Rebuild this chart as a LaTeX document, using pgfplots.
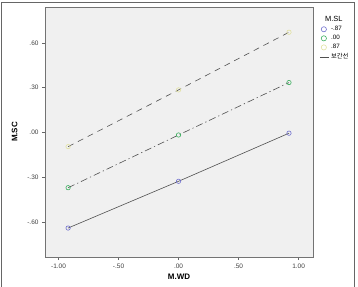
\documentclass[border=0pt]{standalone}
\usepackage{pgfplots}
\pgfplotsset{compat=1.18}
\usepackage{fontspec}
\setmainfont{Liberation Sans}
\newfontfamily\krfont{Noto Sans CJK KR}
\definecolor{bgc}{RGB}{240,240,240}
\definecolor{lnc}{RGB}{80,80,80}
\definecolor{mblue}{RGB}{110,110,205}
\definecolor{mgreen}{RGB}{60,175,95}
\definecolor{myell}{RGB}{225,225,160}
\pgfplotsset{
  legmark/.style={legend image code/.code={\draw[##1, line width=0.6bp] plot coordinates {(3bp,0bp)};}},
  legline/.style={legend image code/.code={\draw[##1] (-1bp,0bp) -- (8bp,0bp);}},
}
\begin{document}
\begin{tikzpicture}
\draw[gray!80!black, line width=0.9bp] (1bp,-2bp) rectangle (354bp,285bp);
\begin{axis}[
  at={(45bp,30bp)}, anchor=south west,
  scale only axis, width=268bp, height=250bp,
  xmin=-1.1125, xmax=1.12, ymin=-0.834, ymax=0.84,
  axis background/.style={fill=bgc},
  axis line style={gray!90!black, line width=0.6bp},
  xtick={-1,-0.5,0,0.5,1},
  xticklabels={-1.00,-.50,.00,.50,1.00},
  ytick={-0.6,-0.3,0,0.3,0.6},
  yticklabels={-.60,-.30,.00,.30,.60},
  tick align=outside, tick pos=left,
  major tick length=3bp,
  tick style={gray!80!black, line width=0.6bp},
  ticklabel style={font=\fontsize{6.5}{7}\selectfont, text=black!75},
  xlabel={\textbf{M.WD}}, ylabel={\textbf{M.SC}},
  label style={font=\fontsize{8}{9}\selectfont},
  xlabel style={at={(rel axis cs:0.5,0)}, anchor=north, yshift=-13bp},
  ylabel style={at={(rel axis cs:0,0.5)}, anchor=south, yshift=24bp},
  legend style={at={(rel axis cs:1.02,0.975)}, anchor=north west, draw=none, fill=none,
    font=\fontsize{6.3}{7}\selectfont, row sep=-0.8bp, inner sep=1bp},
  legend cell align=left,
]
\addlegendimage{empty legend}
\addlegendentry{\hspace{-6bp}\fontsize{7.5}{8}\selectfont M.SL}
\addlegendimage{only marks, mark=o, mark size=2.6bp, mblue, legmark}
\addlegendentry{-.87}
\addlegendimage{only marks, mark=o, mark size=2.6bp, mgreen, legmark}
\addlegendentry{.00}
\addlegendimage{only marks, mark=o, mark size=2.6bp, myell, legmark}
\addlegendentry{.87}
\addlegendimage{lnc, line width=0.6bp, legline}
\addlegendentry{{\krfont 보간선}}

\addplot[lnc, line width=0.6bp, mark=o, mark size=2.2bp, mark options={mblue, solid}, forget plot]
  coordinates {(-0.92,-0.640) (0,-0.327) (0.92,-0.005)};
\addplot[lnc, line width=0.6bp, dash pattern=on 7bp off 3bp on 1.2bp off 3bp, mark=o, mark size=2.2bp, mark options={mgreen, solid}, forget plot]
  coordinates {(-0.92,-0.370) (0,-0.017) (0.92,0.334)};
\addplot[lnc, line width=0.6bp, dash pattern=on 6bp off 5bp, mark=o, mark size=2.2bp, mark options={myell, solid}, forget plot]
  coordinates {(-0.92,-0.095) (0,0.285) (0.92,0.671)};
\end{axis}
\pgfresetboundingbox
\path[use as bounding box] (0bp,0bp) rectangle (358bp,287bp);
\end{tikzpicture}
\end{document}
